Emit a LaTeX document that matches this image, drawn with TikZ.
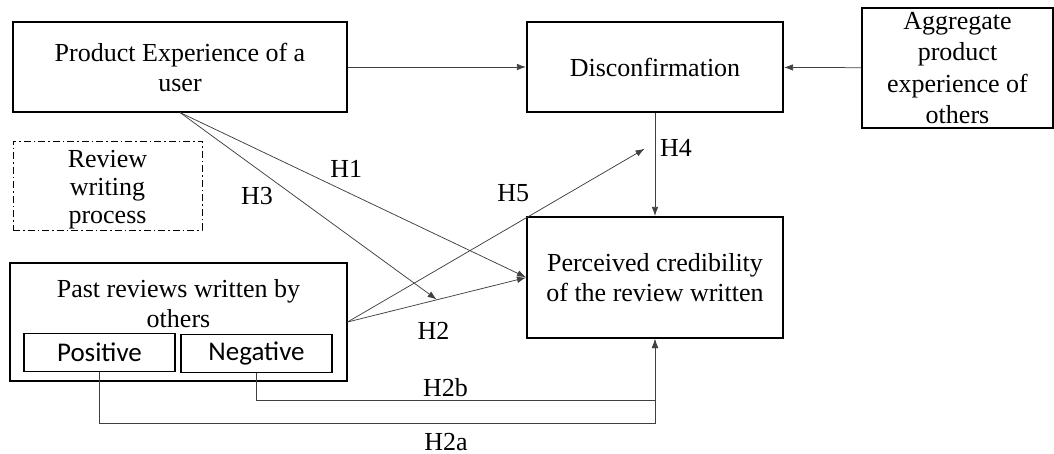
\documentclass[tikz,border=0pt]{standalone}
\usepackage{fontspec}
\setmainfont{Liberation Serif}
\newfontfamily\calibri{Carlito}
\usetikzlibrary{arrows.meta,calc}

\begin{document}
\begin{tikzpicture}[x=1pt,y=-1pt,>={Latex[length=9pt,width=6.5pt]},shorten >=0.5pt,
	font=\fontsize{26}{30}\selectfont,
	box/.style={draw,line width=1.1pt,align=center,inner sep=0pt},
	subbox/.style={box,font=\calibri\fontsize{27}{30}\selectfont,minimum width=151,minimum height=38},
	link/.style={black!75,line width=0.75pt},
	lbl/.style={anchor=center,inner sep=0pt,text=black}]

\useasboundingbox (0,0) rectangle (1054,454);

\node[box,minimum width=334,minimum height=90]   (prod) at (180,67)       {Product Experience of a\\user};
\node[box,minimum width=256,minimum height=90]   (disc) at (655,67)       {Disconfirmation};
\node[box,minimum width=191,minimum height=120,font=\fontsize{26}{31.5}\selectfont]
                                                 (aggr) at (957.5,68)     {Aggregate\\product\\experience of\\others};
\node[box,minimum width=189,minimum height=89,line width=0.9pt,dash pattern=on 7pt off 3pt on 1.5pt off 3pt]
                                                 (review) at (107.5,185.5) {};
\node[align=center,inner sep=0pt,font=\fontsize{26}{28}\selectfont]
                                                 (reviewtxt) at (107.5,190) {Review\\writing\\process};
\node[box,minimum width=256,minimum height=121]  (perc) at (655,277.5)    {Perceived credibility\\of the review written};
\node[box,minimum width=337,minimum height=118]  (past) at (178.5,322)    {};
\node[align=center,inner sep=0pt]                (pasttxt) at (178.5,304) {Past reviews written by\\others};
\node[subbox]                                    (pos) at (99.5,352.5)    {Positive};
\node[subbox]                                    (neg) at (256.5,353.5)   {Negative};

% points where arrows end on other arrows
\coordinate (mod) at ($(past.east)!0.5!(perc.west)$);
\coordinate (h5end) at ($(disc.south)+(-10,36)$);

\draw[link,->] (prod) -- (disc);
\draw[link,->] (aggr) -- (disc);
\draw[link,->] (disc) -- node[lbl,pos=0.34,xshift=21pt] (h4) {H4} (perc);

\draw[link,->] (prod.south) -- node[lbl,pos=0.48,yshift=23pt] (h1) {H1} (perc.west);
\draw[link,->] (prod.south) -- node[lbl,pos=0.3,yshift=-27pt] (h3) {H3} (mod);
\draw[link,->] (past.east) -- node[lbl,pos=0.48,yshift=-30pt] (h2) {H2} (perc.west);
\draw[link,->] (past.east) -- node[lbl,pos=0.557,yshift=32pt] (h5) {H5} (h5end);

\draw[link,->] (neg.south) |- node[text=black,pos=0.737,above] (h2b) {H2b} ($(perc.south)+(0,62)$) -- (perc.south);
\draw[link,->] (pos.south) |- node[text=black,pos=0.812,below=6pt] (h2a) {H2a} ($(perc.south)+(0,85)$) -- (perc.south);

\end{tikzpicture}
\end{document}
